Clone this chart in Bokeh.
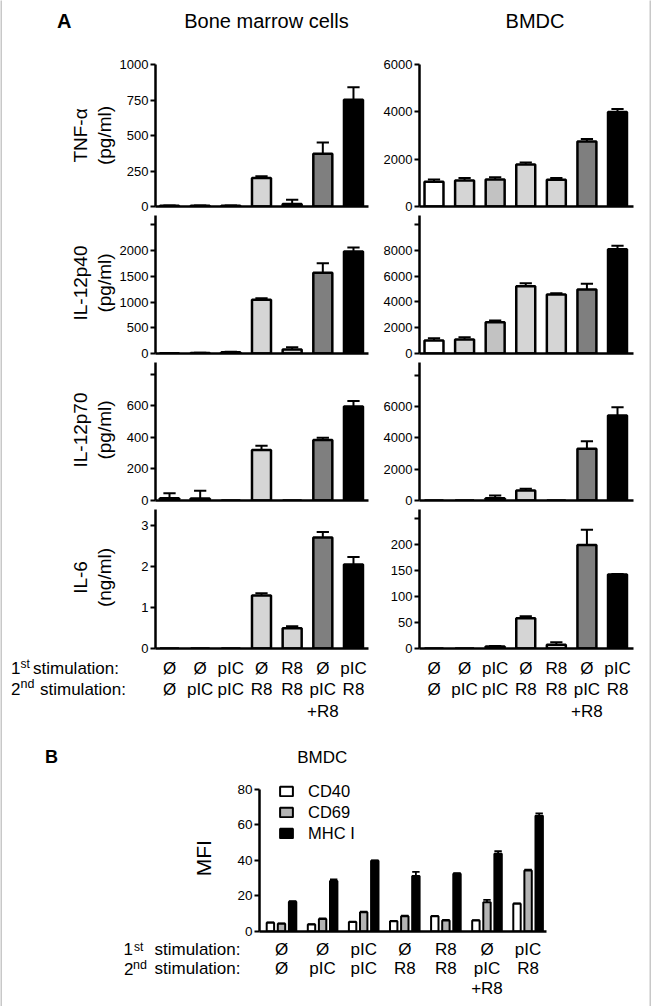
import numpy as np
from bokeh.plotting import figure
from bokeh.models import Range1d, FixedTicker, Legend, LegendItem, ColumnDataSource
from bokeh.layouts import row, column
from bokeh.core.properties import value
from bokeh.embed import file_html
from bokeh.resources import INLINE

FONT = "Liberation Sans"

# ---------------- data ----------------
stim_1st = ["Ø", "Ø", "pIC", "Ø", "R8", "Ø", "pIC"]
stim_2nd = ["Ø", "pIC", "pIC", "R8", "R8", "pIC", "R8"]
stim_3rd = ["", "", "", "", "", "+R8", ""]

tnf_bm = [5, 5, 5, 200, 18, 372, 752]
tnf_bm_err = [2, 2, 2, 13, 30, 78, 88]
tnf_dc = [1050, 1100, 1140, 1776, 1127, 2748, 3988]
tnf_dc_err = [90, 100, 100, 84, 73, 99, 127]

p40_bm = [3, 10, 25, 1043, 78, 1567, 1981]
p40_bm_err = [4, 5, 10, 32, 44, 187, 77]
p40_dc = [1010, 1087, 2433, 5228, 4583, 4970, 8100]
p40_dc_err = [180, 183, 130, 235, 103, 440, 260]

p70_bm = [14, 12, 0, 320, 0, 384, 596]
p70_bm_err = [32, 50, 0, 28, 0, 15, 36]
p70_dc = [0, 0, 150, 640, 0, 3300, 5425]
p70_dc_err = [0, 0, 170, 105, 0, 485, 530]

il6_bm = [0, 0, 0, 1.29, 0.495, 2.71, 2.05]
il6_bm_err = [0, 0, 0, 0.06, 0.05, 0.13, 0.18]
il6_dc = [0, 0, 4, 58, 7, 199, 142]
il6_dc_err = [0, 0, 1, 4, 5, 29, 1]

markers = ["CD40", "CD69", "MHC I"]
cd40 = [4.9, 3.9, 5.3, 5.8, 8.6, 6.2, 15.6]
cd40_err = [0.2, 0.2, 0.2, 0.2, 0.2, 0.2, 0.2]
cd69 = [4.3, 7.1, 10.9, 8.6, 6.2, 16.5, 34.4]
cd69_err = [0.3, 0.3, 0.3, 0.3, 0.3, 1.3, 0.4]
mhc1 = [16.7, 28.5, 39.8, 31.2, 32.6, 43.8, 65.2]
mhc1_err = [0.4, 0.8, 0.3, 2.4, 0.3, 1.4, 1.3]

ticks_tnf_bm = [0, 250, 500, 750, 1000]
ticks_tnf_dc = [0, 2000, 4000, 6000]
ticks_p40_bm = [0, 500, 1000, 1500, 2000, 2500]
ticks_p40_dc = [0, 2000, 4000, 6000, 8000, 10000]
ticks_p70_bm = [0, 200, 400, 600, 800]
ticks_p70_dc = [0, 2000, 4000, 6000, 8000]
ticks_il6_bm = [0, 1, 2, 3]
ticks_il6_dc = [0, 50, 100, 150, 200, 250]
ticks_mfi = [0, 20, 40, 60, 80]

# ---------------- styles / geometry ----------------
bar_fill = ["#ffffff", "#d5d5d5", "#c2c2c2", "#d5d5d5", "#d5d5d5", "#7f7f7f", "#000000"]
marker_fill = ["#ffffff", "#b4b4b4", "#000000"]
GRAY = "#c8c8c8"

W, H = 651, 1006
XO = 2                      # width of the grey frame strips
IW = W - 2 * XO             # inner width
XR_L = (0.543, 7.49)
XR_R = (0.526, 7.523)
XR_B = (0.4647, 7.448)
FL_L, FW_L = 155, 213       # page x of left frame, width
FL_R, FW_R = 419, 214
FL_B, FW_B = 259, 287


def text_fig(w, h, fill="white"):
    p = figure(width=w, height=h, x_range=Range1d(0, w), y_range=Range1d(h, 0),
               x_axis_type=None, y_axis_type=None, toolbar_location=None,
               output_backend="svg", min_border_left=0, min_border_right=0,
               min_border_top=0, min_border_bottom=0, title=None)
    p.outline_line_color = None
    p.background_fill_color = fill
    p.border_fill_color = fill
    return p


def txt(p, x, y, s, size, align="left", angle=0.0, bold=False):
    # x given in page coordinates; inner figures start at XO
    p.text(x=[x - XO], y=[y], text=[s], text_font=value(FONT),
           text_font_size=value(f"{size}px"), text_align=align,
           text_baseline="alphabetic", angle=angle, text_color="black",
           text_font_style="bold" if bold else "normal")


def style_axes(p, ticks, label_size):
    p.grid.visible = False
    p.outline_line_color = None
    p.background_fill_color = "white"
    p.border_fill_color = "white"
    xa = p.xaxis[0]
    xa.ticker = FixedTicker(ticks=[])
    xa.major_tick_line_color = None
    xa.minor_tick_line_color = None
    xa.major_label_text_font_size = "0px"
    xa.major_tick_out = 0
    xa.major_tick_in = 0
    xa.major_label_standoff = 0
    xa.axis_line_width = 2.5
    xa.axis_line_color = "black"
    ya = p.yaxis[0]
    ya.ticker = FixedTicker(ticks=ticks)
    ya.minor_tick_line_color = None
    ya.major_tick_in = 0
    ya.major_tick_out = 5
    ya.major_tick_line_width = 2
    ya.major_tick_line_color = "black"
    ya.axis_line_width = 2.5
    ya.axis_line_color = "black"
    ya.major_label_text_font = FONT
    ya.major_label_text_font_size = f"{label_size}px"
    ya.major_label_text_color = "black"
    ya.major_label_standoff = 2


def bar_fig(width, height, bl, br, bt, bb, xr, ymax, ticks, hide, vals, errs):
    p = figure(width=width, height=height, x_range=Range1d(*xr), y_range=Range1d(0, ymax),
               min_border_left=bl, min_border_right=br, min_border_top=bt,
               min_border_bottom=bb, toolbar_location=None, output_backend="svg", title=None)
    style_axes(p, ticks, 13)
    if hide:
        p.yaxis[0].major_label_overrides = {t: "" for t in hide}
    x = np.arange(1, 8)
    v = np.array(vals, dtype=float)
    e = np.array(errs, dtype=float)
    m = e > 0
    up = v + e
    p.segment(x0=x[m], y0=v[m], x1=x[m], y1=up[m], line_width=2, line_color="black")
    p.segment(x0=x[m] - 0.2, y0=up[m], x1=x[m] + 0.2, y1=up[m], line_width=2, line_color="black")
    src = ColumnDataSource(dict(x=x, top=v, fill=bar_fill))
    p.vbar(x="x", top="top", width=0.62, source=src, fill_color="fill",
           line_color="black", line_width=2.5)
    return p


# ---------------- panel A ----------------
hdr = text_fig(IW, 52)
txt(hdr, 56.5, 18.8, "A", 20, bold=True)
txt(hdr, 266, 18.8, "Bone marrow cells", 20, align="center")
txt(hdr, 534.5, 18.8, "BMDC", 20, align="center")

TAW = 116 - XO
LW = 259
RW = IW - TAW - LW          # 274
RBR = RW - 44 - FW_R        # right border of right plots
rowsA = column(
    row(bar_fig(LW, 161, 39, 7, 10, 9, XR_L, 1000, ticks_tnf_bm, [], tnf_bm, tnf_bm_err),
        bar_fig(RW, 161, 44, RBR, 10, 9, XR_R, 6000, ticks_tnf_dc, [], tnf_dc, tnf_dc_err)),
    row(bar_fig(LW, 147, 39, 7, 0, 9, XR_L, 2680, ticks_p40_bm, [2500], p40_bm, p40_bm_err),
        bar_fig(RW, 147, 44, RBR, 0, 9, XR_R, 10718, ticks_p40_dc, [10000], p40_dc, p40_dc_err)),
    row(bar_fig(LW, 147, 39, 7, 0, 9, XR_L, 876, ticks_p70_bm, [800], p70_bm, p70_bm_err),
        bar_fig(RW, 147, 44, RBR, 0, 9, XR_R, 8818, ticks_p70_dc, [8000], p70_dc, p70_dc_err)),
    row(bar_fig(LW, 147, 39, 7, 0, 8, XR_L, 3.39, ticks_il6_bm, [], il6_bm, il6_bm_err),
        bar_fig(RW, 147, 44, RBR, 0, 8, XR_R, 267, ticks_il6_dc, [250], il6_dc, il6_dc_err)),
)

ta = text_fig(TAW, 602)
titles = [("TNF-α", "(pg/ml)", 81), ("IL-12p40", "(pg/ml)", 228.5),
          ("IL-12p70", "(pg/ml)", 375.5), ("IL-6", "(ng/ml)", 523)]
for l1, l2, yc in titles:
    txt(ta, 80, yc, l1, 19, align="center", angle=np.pi / 2)
    txt(ta, 104, yc, l2, 19, align="center", angle=np.pi / 2)

midA = row(ta, rowsA)

cat = text_fig(IW, 70)
txt(cat, 10.5, 11.5, "1", 17)
txt(cat, 20, 7.2, "st", 12)
txt(cat, 32.5, 11.5, "stimulation:", 17)
txt(cat, 10.5, 32.8, "2", 17)
txt(cat, 20, 27.2, "nd", 12.5)
txt(cat, 39.5, 32.8, "stimulation:", 17)
for i in range(7):
    xl = FL_L + (i + 1 - XR_L[0]) / (XR_L[1] - XR_L[0]) * FW_L
    xr = FL_R + (i + 1 - XR_R[0]) / (XR_R[1] - XR_R[0]) * FW_R
    for xx in (xl, xr):
        txt(cat, xx, 11.5, stim_1st[i], 17, align="center")
        txt(cat, xx, 32.8, stim_2nd[i], 17, align="center")
        if stim_3rd[i]:
            txt(cat, xx, 55, stim_3rd[i], 17, align="center")

# ---------------- panel B ----------------
bh = text_fig(IW, 43)
txt(bh, 44.5, 28.7, "B", 18, bold=True)
txt(bh, 321.7, 29, "BMDC", 17, align="center")

TBW = 233 - XO
PBW = IW - TBW
tb = text_fig(TBW, 168)
txt(tb, 202.5, 86, "MFI", 21, align="center", angle=np.pi / 2)

pb = figure(width=PBW, height=168, x_range=Range1d(*XR_B), y_range=Range1d(0, 84.5),
            min_border_left=26, min_border_right=PBW - 26 - FW_B, min_border_top=10,
            min_border_bottom=8, toolbar_location=None, output_backend="svg", title=None)
style_axes(pb, ticks_mfi, 13.5)
pb.yaxis[0].bounds = (0, 80)
xg = np.arange(1, 8)
offsets = [-0.27, 0.0, 0.27]
items = []
for k, (vals, errs) in enumerate([(cd40, cd40_err), (cd69, cd69_err), (mhc1, mhc1_err)]):
    xs = xg + offsets[k]
    v = np.array(vals)
    e = np.array(errs)
    up = v + e
    pb.segment(x0=xs, y0=v, x1=xs, y1=up, line_width=1.8, line_color="black")
    pb.segment(x0=xs - 0.09, y0=up, x1=xs + 0.09, y1=up, line_width=1.8, line_color="black")
    r = pb.vbar(x=xs, top=v, width=0.18, fill_color=marker_fill[k], line_color="black",
                line_width=2)
    items.append(LegendItem(label=markers[k], renderers=[r]))
leg = Legend(items=items, location=(19, 88.5), orientation="vertical", glyph_width=16,
             glyph_height=12, label_height=12, spacing=2, padding=0, margin=0,
             border_line_color=None, background_fill_alpha=0, label_standoff=14,
             label_text_font=FONT, label_text_font_size="16.5px", label_text_color="black")
pb.add_layout(leg)
rowB = row(tb, pb)

catb = text_fig(IW, 65)
txt(catb, 123, 9.8, "1", 17)
txt(catb, 133.5, 7.2, "st", 12)
txt(catb, 154, 9.8, "stimulation:", 17)
txt(catb, 123.5, 29.3, "2", 17)
txt(catb, 132.5, 25.5, "nd", 12.5)
txt(catb, 154, 29.3, "stimulation:", 17)
for i in range(7):
    xx = FL_B + (i + 1 - XR_B[0]) / (XR_B[1] - XR_B[0]) * FW_B
    txt(catb, xx, 9.8, stim_1st[i], 17, align="center")
    txt(catb, xx, 29.3, stim_2nd[i], 17, align="center")
    if stim_3rd[i]:
        txt(catb, xx, 49, stim_3rd[i], 17, align="center")

# ---------------- frame strips ----------------
inner = column(text_fig(IW, 2, GRAY), hdr, midA, cat, text_fig(IW, 2, GRAY),
               bh, rowB, catb, text_fig(IW, 2, GRAY))
layout = row(text_fig(XO, H, GRAY), inner, text_fig(XO, H, GRAY))
open("out.html", "w").write(file_html(layout, INLINE))
